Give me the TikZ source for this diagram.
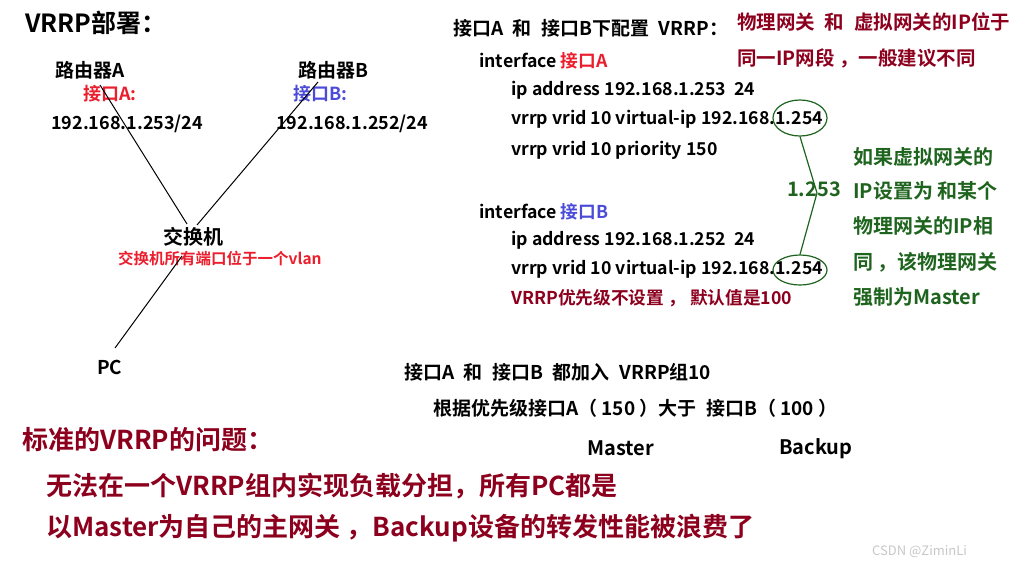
\documentclass[tikz,border=0pt]{standalone}
\usepackage{fontspec}
\setmainfont{Noto Sans CJK SC}[BoldFont={Noto Sans CJK SC Bold}]
\usepackage{xcolor}
\usetikzlibrary{shapes.geometric}
\definecolor{portred}{RGB}{235,30,45}
\definecolor{portblue}{RGB}{75,75,215}
\definecolor{notered}{RGB}{140,0,30}
\definecolor{notegreen}{RGB}{30,100,30}
\newcommand{\gap}{\hspace{0.5em}}

\begin{document}
\begin{tikzpicture}[x=1pt, y=-1pt,
  t/.style={anchor=west, inner sep=0pt, font=\bfseries\fontsize{#1}{#1}\selectfont,
    execute at begin node=\vphantom{口}},
  link/.style={line width=1pt},
  vip/.style={ellipse, draw=notegreen, line width=1.2pt, minimum width=54pt, inner sep=0pt},
]
\useasboundingbox (0,0) rectangle (1009,571);

% topology
\node[t=25] (title) at (25,23) {VRRP部署：};
\node[t=19] (ra) at (55,70) {路由器A};
\node[t=18, text=portred] (ra-if) at (83,94) {接口A:};
\node[t=18] (ra-ip) at (51,124) {192.168.1.253/24};
\node[t=19] (rb) at (298,70) {路由器B};
\node[t=18, text=portblue] (rb-if) at (293,94) {接口B:};
\node[t=18] (rb-ip) at (276,124) {192.168.1.252/24};
\node[t=20] (sw) at (163,237) {交换机};
\node[t=15.5, text=portred] (sw-note) at (118,259) {交换机所有端口位于一个vlan};
\node[t=19] (pc) at (97,368) {PC};
\coordinate (ra-port) at (100,85);
\coordinate (rb-port) at (318,82);
\coordinate (sw-a) at (187,224);
\coordinate (sw-b) at (197,225);
\coordinate (sw-pc) at (182,256);
\coordinate (pc-port) at (115,348);
\draw[link] (ra-port) -- (sw-a);
\draw[link] (rb-port) -- (sw-b);
\draw[link] (sw-pc) -- (pc-port);

% configuration
\node[t=19] (cfg) at (453,28) {接口A\gap 和\gap 接口B下配置\gap VRRP：};
\node[t=17.7] (ifa) at (479,61) {interface \textcolor{portred}{接口A}};
\node[t=17.7] (ipa) at (511,90) {ip address 192.168.1.253\ \ 24};
\node[t=17.7] (vipa) at (511,119) {vrrp vrid 10 virtual-ip 192.168.1.254};
\node[t=17.7] (pria) at (511,150) {vrrp vrid 10 priority 150};
\node[t=17.7] (ifb) at (479,212) {interface \textcolor{portblue}{接口B}};
\node[t=17.7] (ipb) at (511,240) {ip address 192.168.1.252\ \ 24};
\node[t=17.7] (vipb) at (511,269) {vrrp vrid 10 virtual-ip 192.168.1.254};
\node[t=17.7, text=notered] (prib) at (511,298) {VRRP优先级不设置 ， 默认值是100};
\node[t=19.5, text=notered] (same1) at (737,22) {物理网关\gap 和\gap 虚拟网关的IP位于};
\node[t=19.5, text=notered] (same2) at (737,58) {同一IP网段 ，一般建议不同};

% virtual ip vs real ip
\node[vip, minimum height=36pt] (ell-a) at (800,118) {};
\node[vip, minimum height=30pt] (ell-b) at (800,270) {};
\coordinate (bend) at (817,193);
\draw[draw=notegreen, line width=1.2pt] (ell-a.south) -- (bend) -- (ell-b.north);
\node[t=20, anchor=center, text=notegreen] (real) at (814,190) {1.253};
\node[t=20, text=notegreen] (g1) at (853,157) {如果虚拟网关的};
\node[t=20, text=notegreen] (g2) at (853,191) {IP设置为 和某个};
\node[t=20, text=notegreen] (g3) at (853,226) {物理网关的IP相};
\node[t=20, text=notegreen] (g4) at (853,262) {同 ，该物理网关};
\node[t=20, text=notegreen] (g5) at (853,297) {强制为Master};

% result
\node[t=19] (join) at (404,372) {接口A\gap 和\gap 接口B\gap 都加入\gap VRRP组10};
\node[t=19] (prio) at (433,408) {根据优先级接口A（ 150 ）大于\gap 接口B（ 100 ）};
\node[t=20] (master) at (587,449) {Master};
\node[t=20] (backup) at (779,449) {Backup};
\node[t=26, text=notered] (issue) at (22,440) {标准的VRRP的问题：};
\node[t=26, text=notered] (issue1) at (46,486) {无法在一个VRRP组内实现负载分担，所有PC都是};
\node[t=26, text=notered] (issue2) at (46,528) {以Master为自己的主网关 ，Backup设备的转发性能被浪费了};
\node[t=13, font=\fontsize{13}{13}\selectfont, text=black!22] (mark) at (872,552) {CSDN @ZiminLi};
\end{tikzpicture}
\end{document}
